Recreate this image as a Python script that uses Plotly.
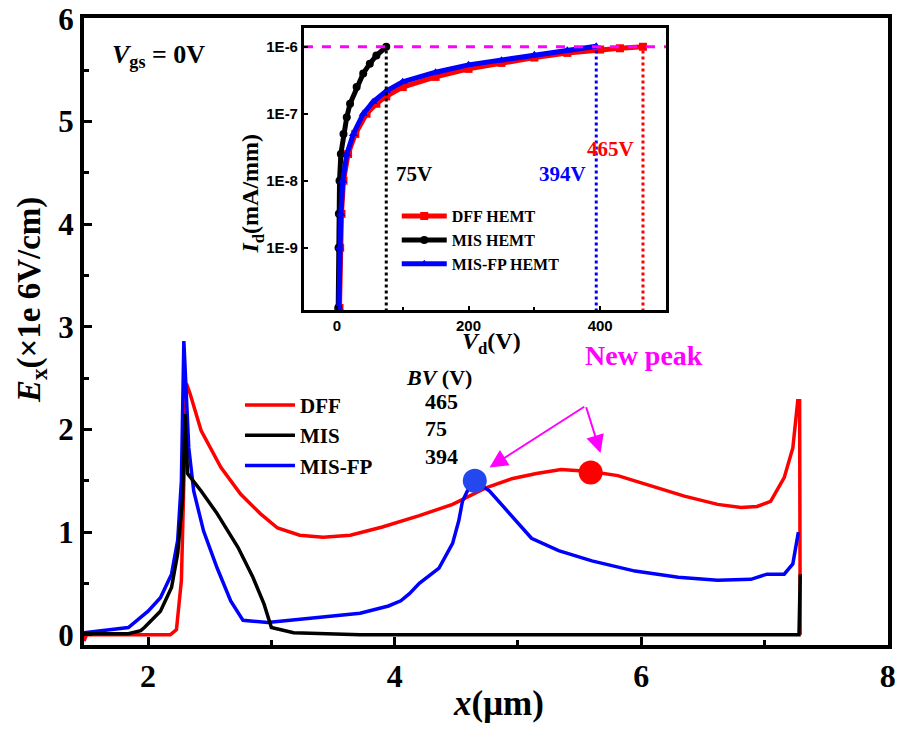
import plotly.graph_objects as go

# ---------------- main panel data: E-field along channel ----------------
dff_x = [1.48, 1.50, 2.18, 2.23, 2.27, 2.30, 2.31, 2.34, 2.43, 2.59, 2.75, 2.91, 3.05, 3.23, 3.42,
         3.64, 3.90, 4.20, 4.47, 4.74, 4.95, 5.15, 5.35, 5.59, 5.81, 6.08, 6.35, 6.62, 6.81,
         6.94, 7.05, 7.16, 7.23, 7.27, 7.285, 7.29]
dff_y = [-0.06, 0.0, 0.0, 0.05, 0.53, 1.82, 2.45, 2.35, 1.99, 1.63, 1.37, 1.18, 1.04, 0.97, 0.95,
         0.97, 1.05, 1.16, 1.27, 1.43, 1.52, 1.57, 1.61, 1.59, 1.55, 1.45, 1.35, 1.27, 1.24,
         1.25, 1.30, 1.53, 1.82, 2.28, 2.28, 0.0]

mis_x = [1.48, 1.84, 1.94, 1.97, 2.10, 2.19, 2.24, 2.28, 2.30, 2.32, 2.43, 2.56, 2.73, 2.85,
         2.94, 3.00, 3.18, 3.72, 7.28, 7.29]
mis_y = [0.01, 0.01, 0.04, 0.07, 0.23, 0.46, 0.79, 1.33, 2.15, 1.57, 1.40, 1.18, 0.85, 0.56,
         0.30, 0.07, 0.02, 0.0, 0.0, 0.59]

mfp_x = [1.48, 1.81, 1.84, 2.00, 2.10, 2.19, 2.24, 2.27, 2.29, 2.33, 2.37, 2.45, 2.56, 2.67,
         2.77, 2.97, 3.31, 3.72, 3.95, 4.05, 4.12, 4.20, 4.36, 4.47, 4.52, 4.55, 4.59, 4.65,
         4.77, 4.93, 5.11, 5.33, 5.60, 5.95, 6.30, 6.62, 6.89, 7.02, 7.16, 7.23, 7.26, 7.275]
mfp_y = [0.02, 0.06, 0.07, 0.23, 0.36, 0.59, 0.92, 1.50, 2.86, 1.82, 1.40, 1.01, 0.65, 0.33,
         0.14, 0.12, 0.16, 0.21, 0.28, 0.33, 0.40, 0.50, 0.65, 0.89, 1.11, 1.30, 1.40, 1.50,
         1.40, 1.18, 0.94, 0.82, 0.72, 0.62, 0.56, 0.53, 0.54, 0.59, 0.59, 0.69, 0.89, 1.0]

names = ["DFF", "MIS", "MIS-FP"]
bv = [465, 75, 394]
colors = ["#ff0000", "#000000", "#0000ff"]

peak_x = [5.59, 4.65]          # new peaks (DFF, MIS-FP)
peak_y = [1.58, 1.50]
peak_colors = ["#ff0000", "#2448f0"]

# ---------------- inset data: Id-Vd breakdown ----------------
in_dff_v = [4, 5, 7, 10, 17, 28, 45, 60, 75, 100, 150, 200, 250, 300, 350, 400, 430, 465]
in_dff_i = [1.26e-10, 1e-9, 3.2e-9, 1e-8, 2.5e-8, 5e-8, 1e-7, 1.41e-7, 1.82e-7, 2.5e-7,
            3.55e-7, 4.68e-7, 5.75e-7, 6.9e-7, 8.1e-7, 9.1e-7, 9.5e-7, 1.0e-6]
in_mis_v = [2, 2.5, 3, 4, 6, 10, 15, 20, 30, 40, 50, 60, 75]
in_mis_i = [1.26e-10, 1e-9, 3.2e-9, 1e-8, 2.5e-8, 5e-8, 8.9e-8, 1.41e-7, 2.5e-7, 4e-7,
            5.6e-7, 7.4e-7, 1.0e-6]
in_mfp_v = [3, 4, 6, 9, 15, 25, 40, 55, 75, 100, 150, 200, 250, 300, 350, 394]
in_mfp_i = [1.26e-10, 1e-9, 3.2e-9, 1e-8, 2.5e-8, 5e-8, 1e-7, 1.51e-7, 2.19e-7, 3.0e-7,
            4.17e-7, 5.37e-7, 6.3e-7, 7.6e-7, 8.9e-7, 1.02e-6]
in_names = ["DFF HEMT", "MIS HEMT", "MIS-FP HEMT"]
in_symbols = ["square", "circle", "triangle-up"]
i_limit = 1e-6
i_floor = 1.2e-10

SERIF = "Liberation Serif, Times New Roman, serif"
SANS = "Liberation Sans, Arial, sans-serif"

fig = go.Figure()

main_xs = [dff_x, mis_x, mfp_x]
main_ys = [dff_y, mis_y, mfp_y]
for idx in [0, 2, 1]:
    fig.add_trace(go.Scatter(x=main_xs[idx], y=main_ys[idx], mode="lines", name=names[idx],
                             line=dict(color=colors[idx], width=3.5), legend="legend",
                             legendrank=idx + 1, xaxis="x", yaxis="y"))

fig.add_trace(go.Scatter(x=peak_x, y=peak_y, mode="markers", showlegend=False,
                         marker=dict(size=24, color=peak_colors), xaxis="x", yaxis="y"))

# inset
in_vs = [in_dff_v, in_mis_v, in_mfp_v]
in_is = [in_dff_i, in_mis_i, in_mfp_i]
for idx in range(3):
    fig.add_trace(go.Scatter(x=in_vs[idx], y=in_is[idx], mode="lines+markers", name=in_names[idx],
                             line=dict(color=colors[idx], width=5),
                             marker=dict(symbol=in_symbols[idx], size=8, color=colors[idx]),
                             legend="legend2", xaxis="x2", yaxis="y2"))
# breakdown markers (vertical dotted) and compliance line
for idx in range(3):
    fig.add_trace(go.Scatter(x=[bv[idx], bv[idx]], y=[i_floor / 2, i_limit], mode="lines",
                             showlegend=False, line=dict(color=colors[idx], width=3, dash="dot"),
                             xaxis="x2", yaxis="y2"))
fig.add_trace(go.Scatter(x=[-50, 500], y=[i_limit, i_limit], mode="lines", showlegend=False,
                         line=dict(color="#ff00ff", width=3, dash="dash"), xaxis="x2", yaxis="y2"))

axis_common = dict(showline=True, linecolor="black", mirror=True, showgrid=False, zeroline=False,
                   ticks="inside", tickcolor="black", automargin=False, ticklabeloverflow="allow")

# page body has an 8px default margin: figure is sized to sit inside 904x732 window
fig.update_layout(
    width=888, height=716,
    margin=dict(l=76, r=8, t=10, b=79, autoexpand=False),
    paper_bgcolor="white", plot_bgcolor="white",
    font=dict(family=SERIF, color="black"),
    xaxis=dict(**axis_common, domain=[0, 1], range=[1.48, 8.002], linewidth=4, tickwidth=3, ticklen=8,
               tickvals=[2, 4, 6, 8], tickfont=dict(family=SERIF, size=32, weight="bold"),
               minor=dict(tickvals=[3, 5, 7], ticklen=5, tickwidth=3, ticks="inside", tickcolor="black")),
    yaxis=dict(**axis_common, domain=[0, 1], range=[-0.1, 6.008], linewidth=4, tickwidth=3, ticklen=8,
               tickvals=[0, 1, 2, 3, 4, 5, 6], tickfont=dict(family=SERIF, size=31, weight="bold"),
               minor=dict(tickvals=[0.5, 1.5, 2.5, 3.5, 4.5, 5.5], ticklen=5, tickwidth=3,
                          ticks="inside", tickcolor="black")),
    xaxis2=dict(**axis_common, domain=[0.2736, 0.7239], anchor="y2", range=[-50, 500],
                linewidth=3, tickwidth=2, ticklen=4, tickvals=[0, 200, 400],
                tickfont=dict(family=SANS, size=15, weight="bold"),
                minor=dict(tickvals=[100, 300], ticklen=3, tickwidth=2, ticks="inside", tickcolor="black")),
    yaxis2=dict(**axis_common, domain=[0.5343, 0.984], anchor="x2", type="log",
                range=[-9.93, -5.72], linewidth=3, tickwidth=2, ticklen=4,
                tickvals=[1e-9, 1e-8, 1e-7, 1e-6], ticktext=["1E-9", "1E-8", "1E-7", "1E-6"],
                tickfont=dict(family=SANS, size=15, weight="bold")),
    legend=dict(x=0.194, y=0.415, xanchor="left", yanchor="top", bgcolor="rgba(0,0,0,0)",
                font=dict(family=SERIF, size=21, weight="bold"), tracegroupgap=0,
                itemwidth=50, traceorder="normal"),
    legend2=dict(x=0.389, y=0.711, xanchor="left", yanchor="top", bgcolor="rgba(0,0,0,0)",
                 font=dict(family=SERIF, size=16, weight="bold"), tracegroupgap=0,
                 itemwidth=45, traceorder="normal"),
)

ann = []
# axis titles
ann.append(dict(text="<b><i>E</i><sub>x</sub>(×1e 6V/cm)</b>", xref="paper", yref="paper",
                x=-0.066, y=0.55, textangle=-90, showarrow=False, xanchor="center", yanchor="middle",
                font=dict(family=SERIF, size=33)))
ann.append(dict(text="<b><i>x</i>(μm)</b>", xref="paper", yref="paper", x=0.515, y=-0.094,
                showarrow=False, xanchor="center", yanchor="middle", font=dict(family=SERIF, size=35)))
ann.append(dict(text="<b><i>V</i><sub>gs</sub> = 0V</b>", xref="paper", yref="paper", x=0.032, y=0.94,
                showarrow=False, xanchor="left", yanchor="middle", font=dict(family=SERIF, size=26)))
# inset titles
ann.append(dict(text="<b><i>I</i><sub>d</sub>(mA/mm)</b>", xref="paper", yref="paper", x=0.209, y=0.72,
                textangle=-90, showarrow=False, xanchor="center", yanchor="middle",
                font=dict(family=SERIF, size=24)))
ann.append(dict(text="<b><i>V</i><sub>d</sub>(V)</b>", xref="paper", yref="paper", x=0.507, y=0.481,
                showarrow=False, xanchor="center", yanchor="middle", font=dict(family=SERIF, size=24)))
# BV column
ann.append(dict(text="<b><i>BV</i> (V)</b>", xref="paper", yref="paper", x=0.398, y=0.427,
                showarrow=False, xanchor="left", yanchor="middle", font=dict(family=SERIF, size=22)))
for k in range(3):
    ann.append(dict(text="<b>%d</b>" % bv[k], xref="paper", yref="paper", x=0.422,
                    y=0.388 - 0.0435 * k, showarrow=False, xanchor="left", yanchor="middle",
                    font=dict(family=SERIF, size=22)))
# inset BV labels
lab_y = [-7.52, -7.9, -7.9]
lab_x = [bv[0] - 10, bv[1] + 12, bv[2] - 12]
lab_anchor = ["right", "left", "right"]
for k in range(3):
    ann.append(dict(text="<b>%dV</b>" % bv[k], xref="x2", yref="y2", x=lab_x[k], y=lab_y[k],
                    showarrow=False, xanchor=lab_anchor[k], yanchor="middle",
                    font=dict(family=SERIF, size=21, color=colors[k])))
# New peak
ann.append(dict(text="<b>New peak</b>", xref="paper", yref="paper", x=0.697, y=0.461,
                showarrow=False, xanchor="center", yanchor="middle",
                font=dict(family=SERIF, size=28, color="#ff00ff")))
# arrows
ann.append(dict(text="", x=4.77, y=1.63, ax=5.55, ay=2.23, xref="x", yref="y", axref="x", ayref="y",
                showarrow=True, arrowhead=2, arrowsize=1.8, arrowwidth=2, arrowcolor="#ff00ff"))
ann.append(dict(text="", x=5.67, y=1.77, ax=5.55, ay=2.23, xref="x", yref="y", axref="x", ayref="y",
                showarrow=True, arrowhead=2, arrowsize=1.8, arrowwidth=2, arrowcolor="#ff00ff"))
fig.update_layout(annotations=ann)

fig.write_html("out.html")
